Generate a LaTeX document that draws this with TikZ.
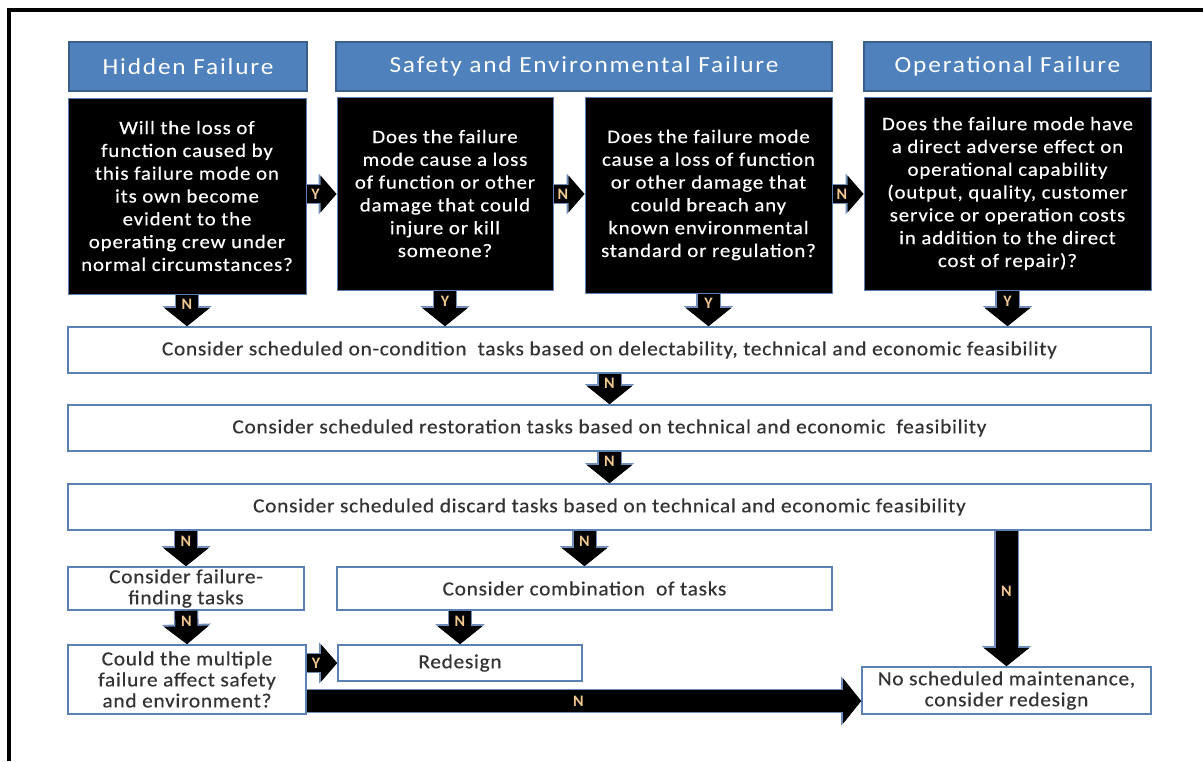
\documentclass[tikz,border=0pt]{standalone}
\usepackage{fontspec}
\setmainfont{Carlito}
\newfontfamily\hdrfont[FakeStretch=1.1,LetterSpace=8]{Carlito}
\newfontfamily\blkfont[FakeStretch=1.1,LetterSpace=4.5,FakeBold=0.4]{Carlito}
\newfontfamily\wfont[FakeStretch=1.07,LetterSpace=3.5,FakeBold=0.4]{Carlito}
\usetikzlibrary{arrows.meta,calc}
\definecolor{hblue}{HTML}{4F81BD}
\definecolor{hborder}{HTML}{3A5F8C}
\definecolor{wborder}{HTML}{5B80B2}
\definecolor{aborder}{HTML}{6F8DB8}
\definecolor{txt}{HTML}{333333}
\definecolor{lbl}{HTML}{F0C890}
\tikzset{
  hdr/.style={fill=hblue,draw=hborder,line width=1.5pt,text=white,inner sep=0pt,
    font=\hdrfont\fontsize{23}{27}\selectfont},
  blk/.style={fill=black,draw=wborder,line width=1pt,text=white,inner sep=0pt,align=center,
    font=\blkfont\fontsize{19}{22.8}\selectfont},
  wbox/.style={fill=white,draw=wborder,line width=1.6pt,text=txt,inner sep=0pt,align=center,
    font=\wfont\fontsize{20}{21}\selectfont},
  barrow/.style={line width=22pt,black,-{Triangle[width=44pt,length=18pt]},
    preaction={draw=aborder,line width=24.5pt,-{Triangle[width=48pt,length=20pt]}}},
  sarrow/.style={line width=18pt,black,-{Triangle[width=36pt,length=16pt]},
    preaction={draw=aborder,line width=20.5pt,-{Triangle[width=40pt,length=18pt]}}},
  lab/.style={text=lbl,font=\bfseries\fontsize{16}{16}\selectfont,inner sep=0pt},
}
\begin{document}
\begin{tikzpicture}[x=1pt,y=-1pt]
\useasboundingbox (0,0) rectangle (1203,761);
\fill[white] (0,0) rectangle (1203,761);
\draw[line width=4pt] (9,761) -- (9,9.5) -- (1203,9.5);
% headers
\node[hdr,minimum width=238pt,minimum height=49pt] (h1) at (188,66.5) {Hidden Failure};
\node[hdr,minimum width=496pt,minimum height=49pt] (h2) at (584,66.5) {Safety and Environmental Failure};
\node[hdr,minimum width=287pt,minimum height=49pt] (h3) at (1007.5,66.5) {Operational Failure};
% black question boxes
\node[blk,minimum width=238pt,minimum height=196pt] (b1) at (187,196) {Will the loss of\\function caused by\\this failure mode on\\its own become\\evident to the\\operating crew under\\normal circumstances?};
\node[blk,minimum width=216pt,minimum height=193pt] (b2) at (445,193.5) {Does the failure\\mode cause a loss\\of function or other\\damage that could\\injure or kill\\someone?};
\node[blk,minimum width=247pt,minimum height=196pt] (b3) at (708.5,195) {Does the failure mode\\cause a loss of function\\or other damage that\\could breach any\\known environmental\\standard or regulation?};
\node[blk,minimum width=287pt,minimum height=193pt] (b4) at (1007.5,193.5) {Does the failure mode have\\a direct adverse effect on\\operational capability\\(output, quality, customer\\service or operation costs\\in addition to the direct\\cost of repair)?};
% wide boxes
\node[wbox,minimum width=1083pt,minimum height=46pt] (w1) at (609.5,350) {Consider scheduled on-condition\ \ tasks based on delectability, technical and economic feasibility};
\node[wbox,minimum width=1083pt,minimum height=46pt] (w2) at (609.5,428) {Consider scheduled restoration tasks based on technical and economic\ \ feasibility};
\node[wbox,minimum width=1083pt,minimum height=46pt] (w3) at (609.5,507) {Consider scheduled discard tasks based on technical and economic feasibility};
% lower boxes
\node[wbox,minimum width=236pt,minimum height=43pt] (f) at (186,588.5) {Consider failure-\\finding tasks};
\node[wbox,minimum width=495pt,minimum height=43pt] (c) at (584.5,588.5) {Consider combination\ \ of tasks};
\node[wbox,minimum width=238pt,minimum height=69pt] (q) at (187,679.5) {Could the multiple\\failure affect safety\\and environment?};
\node[wbox,minimum width=244pt,minimum height=36pt] (r) at (460,663) {Redesign};
\node[wbox,minimum width=289pt,minimum height=47pt] (ns) at (1006.5,690.5) {No scheduled maintenance,\\consider redesign};
\coordinate (nrow) at (0,701);
% horizontal arrows between question boxes
\draw[sarrow] (b1.east |- 0,194) -- (b2.west |- 0,194) node[lab,pos=0.3]{Y};
\draw[sarrow] (b2.east |- 0,194) -- (b3.west |- 0,194) node[lab,pos=0.3]{N};
\draw[sarrow] (b3.east |- 0,194) -- (b4.west |- 0,194) node[lab,pos=0.3]{N};
% down arrows
\draw[barrow] (b1.south) -- (b1.south |- w1.north) node[lab,pos=0.3]{N};
\draw[barrow] (b2.south) -- (b2.south |- w1.north) node[lab,pos=0.3]{Y};
\draw[barrow] (b3.south) -- (b3.south |- w1.north) node[lab,pos=0.3]{Y};
\draw[barrow] (b4.south) -- (b4.south |- w1.north) node[lab,pos=0.3]{Y};
\draw[barrow] (w1.south) -- (w2.north) node[lab,pos=0.3]{N};
\draw[barrow] (w2.south) -- (w3.north) node[lab,pos=0.3]{N};
\draw[barrow] (w3.south -| f.north) -- (f.north) node[lab,pos=0.3]{N};
\draw[barrow] (w3.south -| c.north) -- (c.north) node[lab,pos=0.3]{N};
\draw[barrow] (w3.south -| ns.north) -- (ns.north) node[lab,pos=0.45]{N};
\draw[barrow] (f.south) -- (q.north) node[lab,pos=0.3]{N};
\draw[barrow] (c.south -| r.north) -- (r.north) node[lab,pos=0.3]{N};
\draw[sarrow] (q.east |- r.west) -- (r.west) node[lab,pos=0.3]{Y};
\draw[barrow] (q.east |- nrow) -- (ns.west |- nrow) node[lab,pos=0.49]{N};
\end{tikzpicture}
\end{document}
